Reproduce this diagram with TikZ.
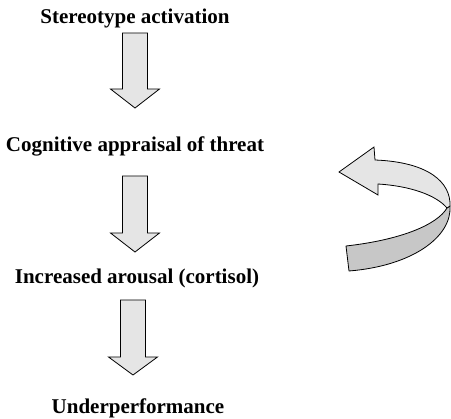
\documentclass[tikz,border=0pt]{standalone}
\usepackage{fontspec}
\setmainfont{Liberation Serif}
\begin{document}
\begin{tikzpicture}[x=1pt,y=-1pt,
  label/.style={font=\fontsize{21}{25}\selectfont\bfseries, inner sep=0pt, anchor=base},
  blockfill/.style={draw=black, line width=0.8pt, fill=black!10, line join=miter},
  underside/.style={draw=black, line width=0.8pt, fill=black!22, line join=round},
  pics/downarrow/.style args={#1/#2/#3}{code={
    % #1 shaft length, #2 head length, #3 shaft half width
    \path[blockfill] (-#3,0) -- (#3,0) -- (#3,#1) -- (24.5,#1) -- (0,#1+#2)
      -- (-24.5,#1) -- (-#3,#1) -- cycle;
  }}]
\useasboundingbox (0,0) rectangle (451,419);

% stages of the process
\node[label] (s1) at (135,24)  {Stereotype activation};
\node[label] (s2) at (135,152) {Cognitive appraisal of threat};
\node[label] (s3) at (137,284) {Increased arousal (cortisol)};
\node[label] (s4) at (138,413.5) {Underperformance};

% block arrows between the stages
\pic at (135,33)  {downarrow=56/19/12.5};
\pic at (135,176) {downarrow=57/19/12.5};
\pic at (133,300) {downarrow=57/18/12.5};

% curved feedback arrow: underside of the band
\path[underside] (447,208) -- (450,206)
  .. controls (452,237) and (412,266) .. (349,271)
  -- (346,246)
  .. controls (400,240) and (437,225) .. (447,208) -- cycle;
% curved feedback arrow: upper face with head
\path[blockfill] (339,172) -- (374,147) -- (375,160)
  .. controls (428,162) and (451,182) .. (450,206)
  -- (447,208)
  .. controls (436,195) and (410,186) .. (378,184)
  -- (378,195) -- cycle;
\end{tikzpicture}
\end{document}
